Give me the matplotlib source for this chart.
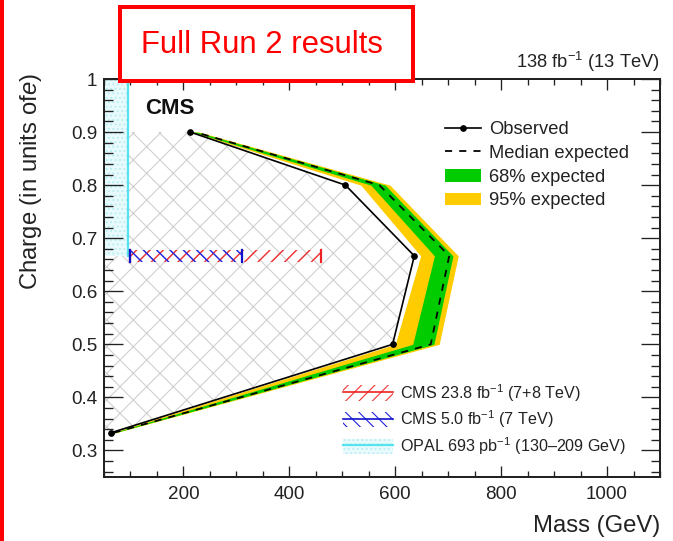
import matplotlib
matplotlib.use('Agg')
import matplotlib.pyplot as plt
from matplotlib.patches import Rectangle, Patch
from matplotlib.lines import Line2D
from matplotlib.ticker import MultipleLocator, FuncFormatter

plt.rcParams['font.family'] = ['Liberation Sans', 'DejaVu Sans']
plt.rcParams['mathtext.fontset'] = 'custom'
plt.rcParams['mathtext.rm'] = 'Liberation Sans'
plt.rcParams['mathtext.it'] = 'Liberation Sans:italic'

# exclusion limits: charge (units of e) vs excluded mass (GeV)
charge = [1/3, 0.5, 2/3, 0.8, 0.9]
mass_obs = [63, 595, 636, 506, 213]
mass_exp = [68, 667, 702, 570, 222]
mass_68_lo = [66, 633, 674, 554, 218]
mass_68_hi = [70, 673, 709, 581, 226]
mass_95_lo = [64, 600, 648, 535, 215]
mass_95_hi = [72, 683, 719, 590, 230]

# earlier results
prev_charge = 2/3
cms_7p8_range = [100, 460]
cms_7_range = [100, 310]
opal_mass = 95

xmin, xmax = 50, 1100
ymin, ymax = 0.25, 1.0

fig = plt.figure(figsize=(673/80, 541/80), dpi=80)
ax = fig.add_axes([104/673, 1-477/541, (660-104)/673, (477-79)/541])
ax.set_xlim(xmin, xmax)
ax.set_ylim(ymin, ymax)

# observed excluded region, grey cross-hatch
ex_x = [xmin] + mass_obs[::-1] + [xmin]
ex_y = [charge[-1]] + charge[::-1] + [charge[0]]
ax.fill(ex_x, ex_y, facecolor='none', edgecolor='#cfcfcf', hatch='x', linewidth=0, zorder=1)

# OPAL region
ax.fill_between([xmin, opal_mass], prev_charge, ymax, facecolor='#e8fafc',
                edgecolor='#b5eef4', hatch='...', linewidth=0, zorder=1)
ax.plot([opal_mass, opal_mass], [prev_charge, ymax], color='#55e3ee', lw=2, zorder=2)

# previous CMS limits at 2/3
hw = 0.011
with plt.rc_context({'hatch.linewidth': 1.3}):
    ax.fill_between(cms_7p8_range, prev_charge - hw, prev_charge + hw, facecolor='none',
                    edgecolor='#ee3333', hatch='//', linewidth=0, zorder=2)
    ax.fill_between(cms_7_range, prev_charge - hw, prev_charge + hw, facecolor='none',
                    edgecolor='#2222dd', hatch='\\\\', linewidth=0, zorder=2)
for rng, col in [(cms_7p8_range, '#ee2222'), (cms_7_range, '#1111cc')]:
    for m in rng:
        ax.plot([m, m], [prev_charge - hw, prev_charge + hw], color=col, lw=2, zorder=3)

# expected bands
ax.fill_betweenx(charge, mass_95_lo, mass_95_hi, color='#ffcc00', lw=0, zorder=2)
ax.fill_betweenx(charge, mass_68_lo, mass_68_hi, color='#00cc00', lw=0, zorder=2)
ax.plot(mass_exp, charge, color='black', ls=(0, (4, 4)), lw=1.6, zorder=3)
ax.plot(mass_obs, charge, color='black', lw=1.5, marker='o', ms=5, zorder=4)

# axes styling
ax.xaxis.set_major_locator(MultipleLocator(200))
ax.xaxis.set_minor_locator(MultipleLocator(50))
ax.yaxis.set_major_locator(MultipleLocator(0.1))
ax.yaxis.set_minor_locator(MultipleLocator(0.02))
ax.yaxis.set_major_formatter(FuncFormatter(lambda v, p: '%g' % round(v, 2)))
ax.tick_params(which='both', direction='in', top=True, right=True,
               labelsize=17, colors='#222222', width=1.2)
ax.tick_params(axis='y', which='major', length=17, pad=6)
ax.tick_params(axis='y', which='minor', length=8)
ax.tick_params(axis='x', which='major', length=10, pad=8)
ax.tick_params(axis='x', which='minor', length=5)
for s in ax.spines.values():
    s.set_linewidth(1.8)
    s.set_color('#222222')

ax.set_xlabel('Mass (GeV)', fontsize=21.5, loc='right', color='#222222')
ax.xaxis.set_label_coords(1.0, -0.095)
ax.set_ylabel('Charge (in units of$\\it{e}$)', fontsize=21.5, loc='top', color='#222222')
ax.yaxis.set_label_coords(-0.108, 1.015)

ax.text(128, 0.945, 'CMS', fontsize=20, fontweight='bold', va='center', color='#111111')
ax.text(1.0, 1.012, '138 fb$^{-1}$ (13 TeV)', transform=ax.transAxes, ha='right',
        va='bottom', fontsize=16.5, color='#222222')

# legends
h1 = [Line2D([], [], color='black', lw=1.5, marker='o', ms=5),
      Line2D([], [], color='black', ls=(0, (4, 4)), lw=1.6),
      Patch(facecolor='#00cc00', edgecolor='none'),
      Patch(facecolor='#ffcc00', edgecolor='none')]
l1 = ['Observed', 'Median expected', '68% expected', '95% expected']
leg1 = ax.legend(h1, l1, loc='upper left', bbox_to_anchor=(445/673, 1-121/541),
                 bbox_transform=fig.transFigure, frameon=False, fontsize=16.5,
                 borderpad=0, borderaxespad=0, handlelength=1.95, handletextpad=0.45,
                 labelspacing=0.37, labelcolor='#222222')
ax.add_artist(leg1)

with plt.rc_context({'hatch.linewidth': 1.3}):
    h2 = [(Patch(facecolor='none', edgecolor='#ee3333', hatch='//', lw=0),
           Line2D([], [], color='#ee2222', lw=1.5)),
          (Patch(facecolor='none', edgecolor='#2222dd', hatch='\\\\', lw=0),
           Line2D([], [], color='#1111cc', lw=1.5)),
          (Patch(facecolor='#e8fafc', edgecolor='#b5eef4', hatch='...', lw=0),
           Line2D([], [], color='#55e3ee', lw=2))]
l2 = ['CMS 23.8 fb$^{-1}$ (7+8 TeV)', 'CMS 5.0 fb$^{-1}$ (7 TeV)',
      'OPAL 693 pb$^{-1}$ (130\u2013209 GeV)']
ax.legend(h2, l2, loc='upper left', bbox_to_anchor=(343/673, 1-382/541),
          bbox_transform=fig.transFigure, frameon=False, fontsize=14.5,
          borderpad=0, borderaxespad=0, handlelength=3.1, handletextpad=0.45,
          handleheight=1.1, labelspacing=0.3, labelcolor='#222222')

# red overlay box and side bar
fig.add_artist(Rectangle((120/673, 1-81/541), 293/673, 74/541, transform=fig.transFigure,
                         facecolor='white', edgecolor='#ff0000', lw=3.6, zorder=10))
fig.text(262/673, 1-45/541, 'Full Run 2 results', color='#ff0000', fontsize=28,
         ha='center', va='center', zorder=11)
fig.add_artist(Rectangle((0, 0), 4/673, 1, transform=fig.transFigure,
                         facecolor='#ff0000', edgecolor='none', zorder=10))

fig.savefig('out.png', dpi=80)
